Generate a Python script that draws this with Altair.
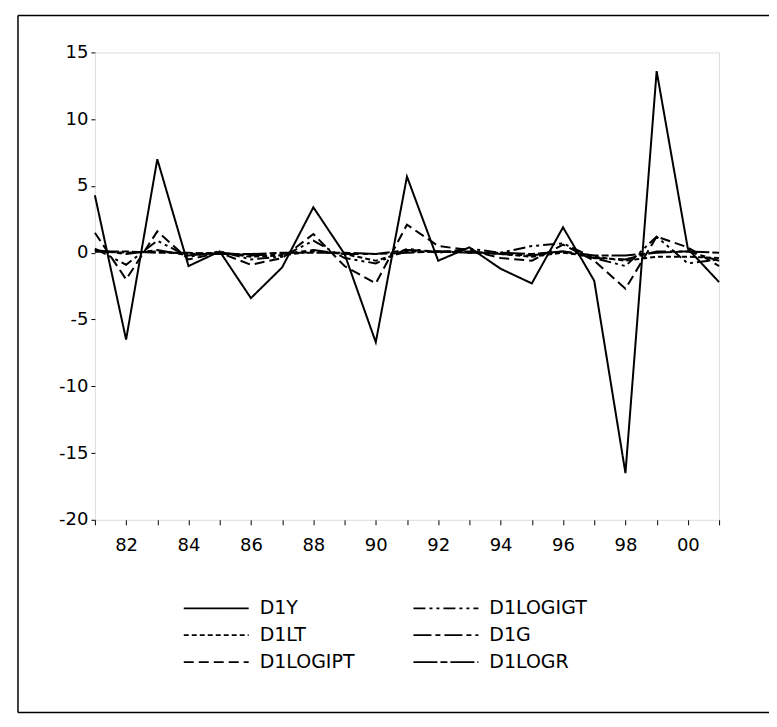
import altair as alt
import pandas as pd

years = list(range(1981, 2002))

D1Y = [4.3, -6.5, 7.0, -1.0, 0.1, -3.4, -1.1, 3.4, -0.1, -6.7, 5.7,
       -0.6, 0.4, -1.2, -2.3, 1.9, -2.1, -16.5, 13.6, 0.3, -2.2]
D1LOGIPT = [1.5, -2.0, 1.6, -0.5, 0.0, -0.9, -0.4, 1.4, -1.0, -2.3, 2.1,
            0.5, 0.2, -0.4, -0.6, 0.6, -0.6, -2.7, 1.2, 0.4, -1.0]
D1LOGIGT = [0.3, -0.9, 0.9, -0.3, 0.1, -0.5, -0.3, 0.9, -0.4, -0.8, 0.3,
            0.0, 0.3, 0.0, 0.5, 0.7, -0.4, -1.0, 1.2, -0.8, -0.5]
D1LT = [0.1, 0.0, 0.1, -0.1, 0.0, -0.3, -0.2, 0.1, -0.1, -0.6, 0.1,
        0.1, 0.0, -0.1, -0.3, 0.0, -0.3, -0.6, -0.3, -0.3, -0.4]
D1G = [0.2, -0.1, 0.2, -0.2, 0.0, -0.2, -0.1, 0.2, -0.1, -0.1, 0.2,
       0.1, 0.1, -0.1, -0.2, 0.1, -0.4, -0.5, 0.1, 0.1, -0.6]
D1LOGR = [0.1, 0.1, 0.0, 0.0, -0.1, -0.1, 0.0, 0.0, 0.0, -0.1, 0.0,
          0.1, 0.0, 0.0, -0.1, 0.1, -0.2, -0.2, 0.0, 0.1, 0.0]

series_names = ["D1Y", "D1LT", "D1LOGIPT", "D1LOGIGT", "D1G", "D1LOGR"]
series_values = {"D1Y": D1Y, "D1LT": D1LT, "D1LOGIPT": D1LOGIPT,
                 "D1LOGIGT": D1LOGIGT, "D1G": D1G, "D1LOGR": D1LOGR}
dashes = [[1, 0], [5, 3], [10, 5], [12, 4, 3, 4, 3, 4], [18, 4, 5, 4], [24, 3, 7, 3]]

y_ticks = [-20, -15, -10, -5, 0, 5, 10, 15]

rows = []
for name in series_names:
    for yr, v in zip(years, series_values[name]):
        rows.append({"year": yr, "value": v, "series": name})
df = pd.DataFrame(rows)

FONT = "DejaVu Sans"

lines = alt.Chart(df).mark_line(color="black", strokeWidth=2).encode(
    x=alt.X("year:Q",
            scale=alt.Scale(domain=[1981, 2001], nice=False, zero=False),
            axis=alt.Axis(values=years, title=None, grid=False, domain=False,
                          tickSize=5, tickColor="black", labelPadding=12,
                          labelExpr="datum.value % 2 == 0 ? substring(toString(datum.value), 2) : ''",
                          labelOverlap=False, labelFont=FONT, labelFontSize=18,
                          labelColor="black")),
    y=alt.Y("value:Q",
            scale=alt.Scale(domain=[-20, 15], nice=False, zero=False),
            axis=alt.Axis(values=y_ticks, title=None, grid=False, domain=False,
                          tickSize=4, tickColor="black", labelPadding=3,
                          labelExpr="toString(datum.value)",
                          labelFont=FONT, labelFontSize=18, labelColor="black")),
    strokeDash=alt.StrokeDash(
        "series:N", title=None,
        scale=alt.Scale(domain=series_names, range=dashes),
        legend=alt.Legend(orient="none", legendX=112, legendY=547, columns=2,
                          symbolType="M-6.5,0H6.5", symbolSize=100,
                          symbolStrokeWidth=1.8, symbolStrokeColor="black",
                          labelFont=FONT, labelFontSize=19, labelColor="black",
                          labelOffset=34, columnPadding=55, rowPadding=7)),
    detail="series:N",
)

frame_df = pd.DataFrame({"a": [0]})
top_rule = alt.Chart(frame_df).mark_rule(color="black", strokeWidth=1.5).encode(
    x=alt.value(-77), x2=alt.value(680), y=alt.value(-37))
left_rule = alt.Chart(frame_df).mark_rule(color="black", strokeWidth=1.5).encode(
    x=alt.value(-77), y=alt.value(-37), y2=alt.value(661))
bottom_rule = alt.Chart(frame_df).mark_rule(color="black", strokeWidth=1.5).encode(
    x=alt.value(-77), x2=alt.value(675), y=alt.value(661))

chart = alt.layer(lines, top_rule, left_rule, bottom_rule).properties(
    width=625, height=468,
    autosize=alt.AutoSizeParams(type="none"),
    padding={"left": 87, "top": 44, "right": 50, "bottom": 198},
).configure_view(stroke="black", strokeWidth=2).configure(background="white")

chart.save("out.html", embed_options={"renderer": "svg", "actions": False})
